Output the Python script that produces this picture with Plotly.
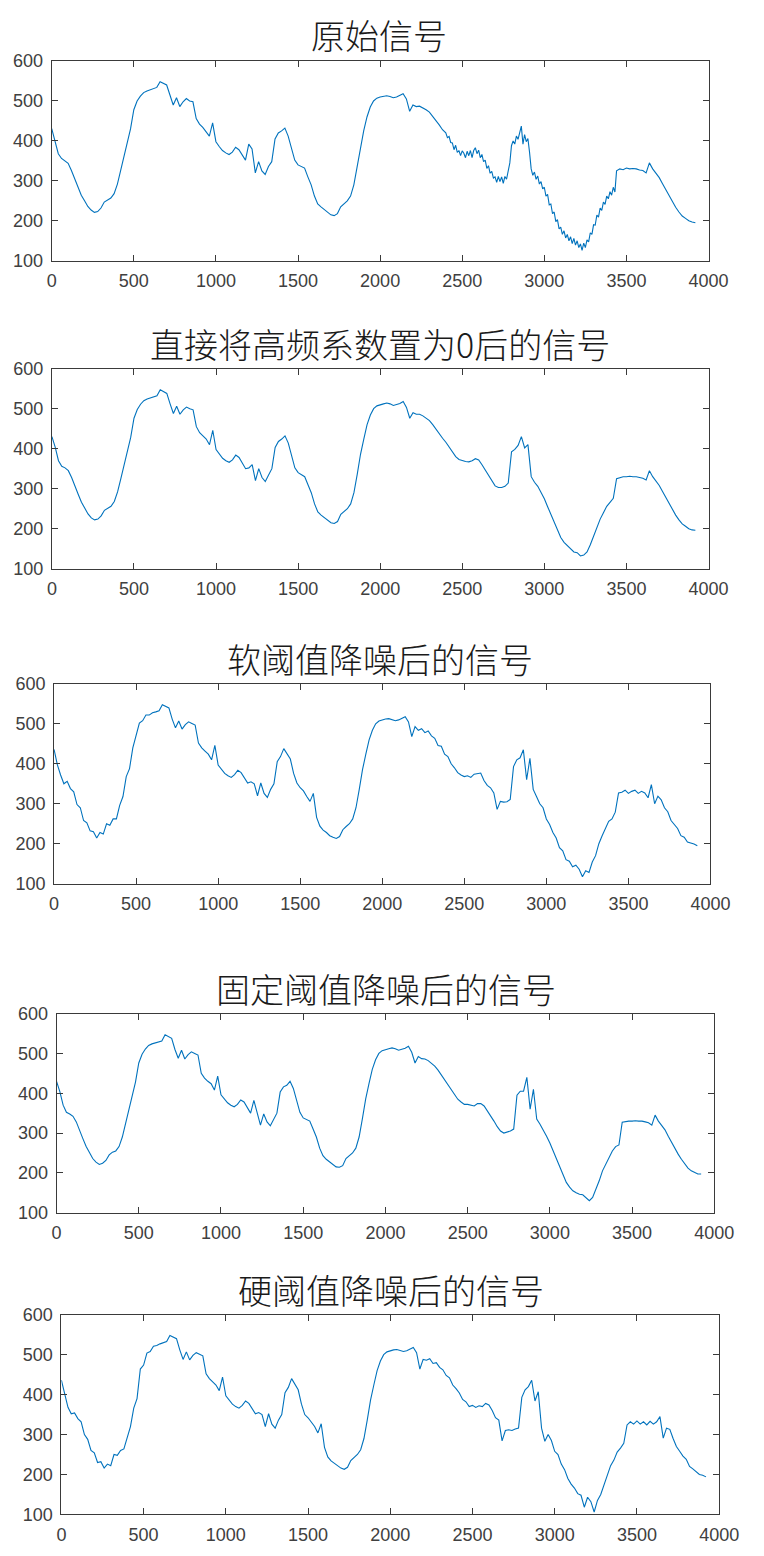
import plotly.graph_objects as go

panel_titles = [
    "原始信号",
    "直接将高频系数置为0后的信号",
    "软阈值降噪后的信号",
    "固定阈值降噪后的信号",
    "硬阈值降噪后的信号",
]

# regular sample grid used by most traces
sample_index = list(range(0, 3921, 20))
# the raw recording is sampled more finely through its noisiest stretch
original_index = list(range(0, 2400, 20)) + list(range(2400, 3440, 10)) + list(range(3440, 3921, 20))

original_signal = [
    431, 402, 368, 356, 350, 344, 326, 304, 285, 264,
    250, 236, 227, 221, 223, 232, 247, 252, 257, 268,
    292, 326, 362, 398, 430, 478, 500, 512, 521, 525,
    528, 531, 534, 548, 544, 540, 515, 490, 508, 486,
    498, 506, 500, 498, 456, 442, 434, 424, 412, 445,
    398, 386, 376, 370, 366, 372, 384, 378, 366, 352,
    392, 380, 320, 348, 325, 316, 336, 348, 405, 420,
    425, 432, 412, 378, 352, 340, 335, 332, 310, 290,
    262, 242, 235, 228, 220, 215, 213, 218, 235, 242,
    250, 262, 290, 335, 385, 425, 460, 485, 500, 507,
    510, 512, 513, 511, 508, 510, 514, 518, 505, 474,
    490, 486, 487, 483, 478, 472, 462, 450, 440, 428,
    # 2400 - 3430, every 10 samples
    420, 408, 411, 396, 395, 378, 389, 371, 376, 363,
    375, 369, 358, 374, 363, 376, 358, 376, 383, 368,
    377, 358, 366, 348, 352, 331, 338, 319, 324, 307,
    310, 296, 311, 298, 310, 294, 311, 304, 322, 345,
    388, 400, 392, 412, 404, 424, 437, 392, 416, 398,
    406, 372, 330, 314, 322, 304, 312, 292, 298, 280,
    284, 262, 266, 240, 242, 218, 222, 198, 203, 180,
    184, 166, 175, 157, 166, 150, 160, 143, 156, 139,
    150, 133, 142, 126, 144, 133, 152, 147, 170, 166,
    190, 189, 214, 209, 232, 226, 247, 241, 262, 255,
    273, 264, 284, 272,
    # 3440 - 3920
    325, 330, 328, 332, 330, 331, 330, 327, 326, 320,
    345, 330, 320, 308, 293, 278, 262, 248, 234, 222,
    212, 206, 200, 197, 195,
]

zeroed_signal = [
    430, 404, 370, 356, 352, 345, 328, 305, 286, 266,
    250, 237, 227, 222, 224, 232, 246, 252, 256, 268,
    292, 325, 360, 396, 428, 476, 498, 511, 520, 524,
    527, 529, 532, 547, 543, 538, 512, 488, 506, 486,
    497, 504, 500, 497, 455, 440, 432, 424, 410, 446,
    398, 386, 376, 370, 366, 372, 384, 378, 365, 350,
    352, 360, 320, 350, 328, 318, 334, 350, 403, 418,
    424, 432, 414, 380, 352, 340, 336, 330, 310, 290,
    262, 242, 234, 228, 220, 215, 213, 218, 236, 242,
    250, 262, 290, 336, 386, 424, 460, 484, 500, 507,
    510, 512, 514, 512, 508, 510, 513, 518, 503, 476,
    490, 486, 486, 482, 477, 470, 460, 448, 438, 426,
    416, 404, 390, 380, 373, 370, 368, 367, 370, 375,
    372, 360, 346, 334, 318, 307, 303, 303, 306, 314,
    392, 398, 408, 430, 402, 410, 330, 316, 306, 292,
    275, 255, 236, 214, 195, 178, 166, 158, 150, 142,
    140, 132, 134, 142, 160, 182, 206, 224, 240, 256,
    266, 276, 325, 328, 330, 330, 331, 330, 330, 328,
    326, 322, 345, 330, 320, 308, 293, 278, 262, 248,
    234, 222, 212, 206, 200, 197, 196,
]

soft_signal = [
    436, 398, 372, 350, 356, 338, 330, 298, 290, 258,
    252, 232, 230, 214, 228, 224, 250, 246, 262, 262,
    296, 318, 368, 388, 440, 472, 502, 508, 522, 522,
    528, 530, 533, 548, 544, 540, 512, 490, 507, 487,
    498, 505, 501, 497, 452, 440, 432, 424, 410, 446,
    397, 386, 376, 370, 366, 373, 384, 378, 365, 352,
    355, 350, 320, 352, 326, 316, 336, 350, 405, 418,
    438, 425, 412, 376, 352, 340, 332, 318, 306, 326,
    266, 244, 234, 228, 220, 216, 213, 218, 235, 243,
    250, 262, 290, 336, 386, 424, 460, 484, 500, 507,
    510, 512, 513, 511, 508, 510, 514, 518, 505, 468,
    493, 484, 488, 478, 482, 470, 464, 446, 444, 424,
    418, 400, 390, 378, 372, 368, 370, 366, 374, 376,
    377, 358, 346, 340, 327, 286, 306, 304, 305, 311,
    393, 410, 415, 435, 360, 414, 336, 318, 300, 290,
    262, 248, 228, 214, 190, 182, 160, 156, 142, 146,
    136, 117, 132, 128, 154, 170, 200, 220, 236, 256,
    262, 279, 327, 329, 334, 326, 331, 334, 326, 331,
    327, 315, 348, 300, 319, 310, 290, 280, 258, 248,
    238, 220, 216, 204, 202, 199, 195,
]

fixed_signal = [
    430, 404, 370, 352, 348, 342, 328, 305, 286, 266,
    250, 236, 227, 221, 224, 231, 245, 252, 255, 266,
    290, 324, 360, 396, 428, 476, 498, 511, 520, 524,
    527, 529, 531, 547, 543, 538, 510, 488, 508, 486,
    497, 504, 500, 496, 450, 438, 430, 424, 408, 443,
    396, 385, 376, 370, 366, 372, 383, 378, 365, 350,
    382, 353, 320, 348, 328, 318, 336, 350, 403, 416,
    420, 430, 412, 380, 352, 338, 334, 330, 310, 290,
    262, 243, 234, 227, 220, 215, 214, 218, 236, 242,
    250, 262, 290, 336, 386, 424, 460, 484, 500, 507,
    510, 512, 514, 512, 508, 510, 513, 518, 503, 476,
    492, 487, 486, 482, 476, 468, 458, 446, 434, 420,
    410, 398, 385, 378, 372, 372, 370, 368, 374, 374,
    368, 356, 342, 330, 316, 305, 300, 302, 305, 310,
    395, 405, 405, 440, 360, 410, 335, 322, 308, 292,
    275, 255, 236, 214, 195, 176, 164, 155, 150, 146,
    145, 137, 130, 138, 158, 180, 205, 222, 240, 255,
    266, 270, 327, 329, 330, 330, 331, 330, 330, 328,
    326, 320, 345, 330, 320, 308, 292, 276, 260, 247,
    234, 222, 212, 205, 200, 197, 197,
]

hard_signal = [
    436, 400, 368, 352, 354, 340, 332, 300, 288, 260,
    254, 230, 232, 216, 226, 222, 250, 248, 260, 264,
    294, 320, 366, 390, 464, 474, 504, 508, 521, 523,
    527, 530, 533, 548, 544, 540, 512, 488, 507, 487,
    498, 505, 501, 497, 452, 440, 432, 424, 410, 444,
    397, 386, 376, 370, 366, 373, 384, 378, 365, 352,
    355, 350, 320, 352, 326, 316, 336, 350, 405, 418,
    440, 424, 412, 376, 350, 342, 330, 320, 304, 327,
    268, 244, 234, 228, 220, 216, 213, 218, 235, 243,
    250, 262, 290, 336, 386, 424, 460, 484, 500, 507,
    510, 512, 513, 511, 508, 510, 514, 518, 505, 464,
    488, 486, 490, 478, 480, 468, 462, 448, 442, 424,
    415, 404, 388, 382, 370, 373, 368, 372, 370, 378,
    374, 360, 342, 336, 284, 310, 312, 310, 314, 316,
    393, 412, 420, 436, 384, 407, 316, 283, 300, 285,
    258, 250, 226, 212, 190, 176, 166, 152, 148, 118,
    143, 132, 106, 135, 150, 176, 200, 222, 236, 256,
    266, 278, 324, 332, 326, 334, 326, 332, 324, 333,
    326, 332, 345, 291, 316, 313, 290, 270, 258, 246,
    238, 220, 214, 206, 200, 198, 194,
]

panels = [
    (original_index, original_signal),
    (sample_index, zeroed_signal),
    (sample_index, soft_signal),
    (sample_index, fixed_signal),
    (sample_index, hard_signal),
]

x_tick_values = [0, 500, 1000, 1500, 2000, 2500, 3000, 3500, 4000]
y_tick_values = [100, 200, 300, 400, 500, 600]

W, H = 764, 1556
# axes boxes in pixels: left, top, right, bottom
boxes = [
    (48.3, 51.7, 727.3, 254.0),
    (48.5, 363.3, 727.3, 566.0),
    (50.7, 682.7, 729.3, 885.0),
    (53.3, 1016.7, 733.3, 1218.3),
    (58.3, 1321.7, 738.3, 1524.0),
]
title_pos = [(387, 25), (388, 338), (388, 657), (394, 991), (399, 1296)]

line_color = "#0072BD"
axis_color = "#3a3a3a"
tick_font = dict(family="Liberation Sans, Arial, sans-serif", size=18, color="#404040")
title_font = dict(family="Noto Sans CJK SC Light, Noto Sans CJK SC, sans-serif",
                  size=34, color="#1a1a1a", weight=300)

fig = go.Figure()
layout = dict(
    width=W, height=H, autosize=False,
    margin=dict(l=0, r=0, t=0, b=0),
    paper_bgcolor="white", plot_bgcolor="white",
    showlegend=False,
)
annotations = []
for i, ((xs, ys), box, title, tpos) in enumerate(zip(panels, boxes, panel_titles, title_pos)):
    n = "" if i == 0 else str(i + 1)
    xa, ya = "x" + n, "y" + n
    fig.add_trace(go.Scatter(
        x=xs, y=ys, mode="lines",
        line=dict(color=line_color, width=1.1),
        xaxis=xa, yaxis=ya, hoverinfo="skip",
    ))
    left, top, right, bottom = box
    common = dict(
        showline=True, linecolor=axis_color, linewidth=1, mirror="ticks",
        ticks="inside", ticklen=6, tickcolor=axis_color, tickwidth=1,
        showgrid=False, zeroline=False, tickfont=tick_font,
    )
    layout["xaxis" + n] = dict(
        domain=[left / W, right / W], range=[0, 4000],
        tickvals=x_tick_values, anchor=ya, ticklabelstandoff=4, **common,
    )
    layout["yaxis" + n] = dict(
        domain=[1 - bottom / H, 1 - top / H], range=[100, 600],
        tickvals=y_tick_values, anchor=xa, ticklabelstandoff=4, **common,
    )
    annotations.append(dict(
        text=title, x=tpos[0] / W, y=1 - tpos[1] / H,
        xref="paper", yref="paper", xanchor="center", yanchor="middle",
        showarrow=False, font=title_font,
    ))
layout["annotations"] = annotations
fig.update_layout(**layout)

fig.write_html("out.html")
